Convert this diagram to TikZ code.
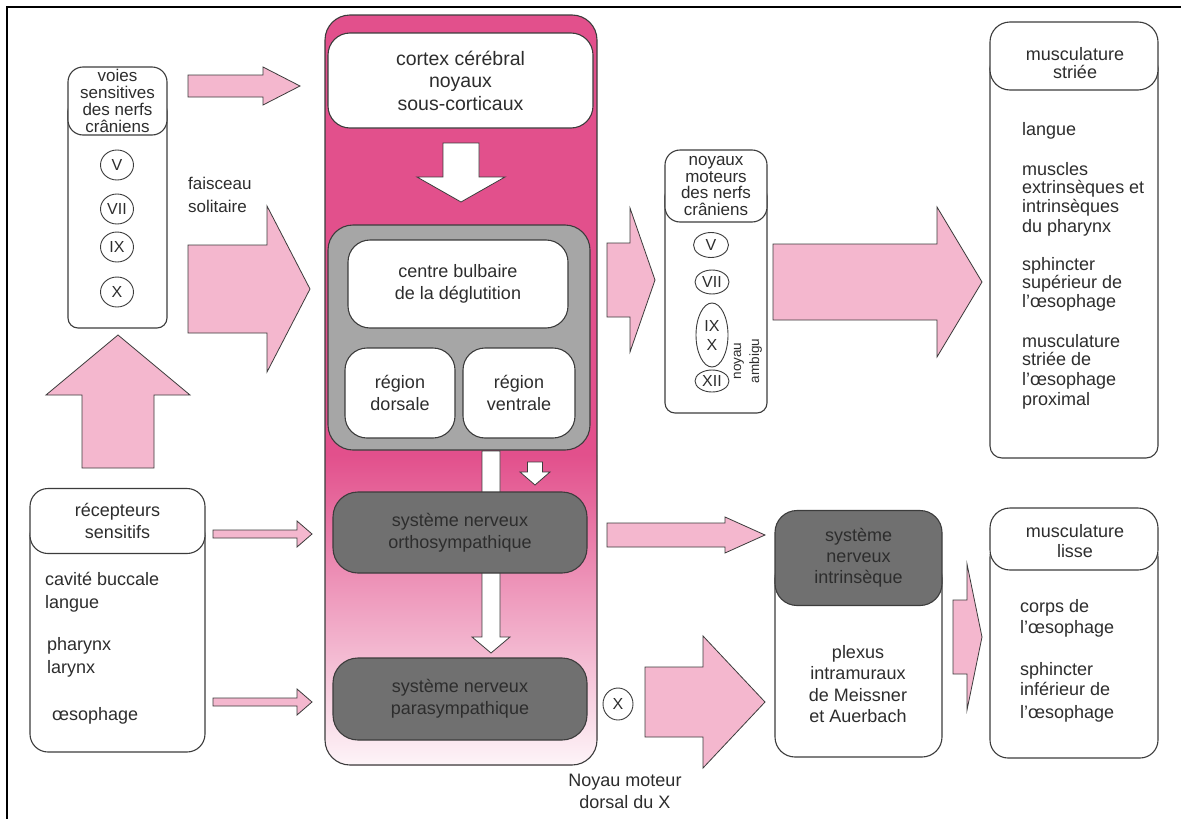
\documentclass[tikz,border=0pt]{standalone}
\usepackage{fontspec}
\setmainfont{Liberation Sans}
\usetikzlibrary{shapes.geometric}
\definecolor{hotpink}{RGB}{226,80,140}
\definecolor{lpink}{RGB}{244,183,206}
\definecolor{mgray}{RGB}{166,166,166}
\definecolor{dgray}{RGB}{112,112,112}
\definecolor{txt}{RGB}{45,45,45}
\definecolor{edge}{RGB}{60,60,60}
% horizontal block arrow: x1, xbase, xtip, yc, shaft half, head half
\newcommand\harr[6]{\draw[parrow] (#1,#4-#5) -- (#2,#4-#5) -- (#2,#4-#6) -- (#3,#4) -- (#2,#4+#6) -- (#2,#4+#5) -- (#1,#4+#5) -- cycle;}
% vertical block arrow: [style] y1, ybase, ytip, xc, shaft half, head half
\newcommand\varr[7][warrow]{\draw[#1] (#5-#6,#2) -- (#5-#6,#3) -- (#5-#7,#3) -- (#5,#4) -- (#5+#7,#3) -- (#5+#6,#3) -- (#5+#6,#2) -- cycle;}
\newcommand\bl[4]{\node[bodytxt, anchor=base west] (#1) at (#2,#3) {#4};}
\begin{document}
\begin{tikzpicture}[x=1pt,y=-1pt,
  every node/.style={inner sep=0pt, text=txt},
  box/.style={draw=edge, line width=1.1pt},
  parrow/.style={draw=edge, fill=lpink, line width=0.8pt, line join=miter},
  warrow/.style={draw=edge, fill=white, line width=0.8pt, line join=miter},
  ttl/.style={align=center, font=\fontsize{18}{22}\selectfont},
  hdr/.style={align=center, font=\fontsize{17}{17}\selectfont},
  bodytxt/.style={font=\fontsize{18}{22}\selectfont},
  rom/.style={draw=edge, line width=0.9pt, ellipse, font=\fontsize{16}{16}\selectfont}]
\useasboundingbox (0,0) rectangle (1181,819);
\fill[white] (0,0) rectangle (1181,819);
% frame
\draw[line width=2.4pt] (7,819) -- (7,7) -- (1181,7);

% ---------- main pink column ----------
\fill[hotpink, rounded corners=25pt] (325,15) rectangle (597,765);
\begin{scope}
  \clip[rounded corners=25pt] (325,15) rectangle (597,765);
  \shade[top color=hotpink, bottom color=hotpink!6] (324,455) rectangle (598,766);
\end{scope}
\node[box, rounded corners=25pt, minimum width=272pt, minimum height=750pt] (col) at (461,390) {};

\node[box, fill=white, rounded corners=22pt, minimum width=265pt, minimum height=95pt, ttl, font=\fontsize{19.5}{22.5}\selectfont] (cortex) at (460.5,80.5) {cortex cérébral\\noyaux\\sous-corticaux};
\varr{143}{177}{202}{461}{18}{44}

\node[box, fill=mgray, rounded corners=25pt, minimum width=262pt, minimum height=225pt] (grey) at (459,337.5) {};
\node[box, fill=white, rounded corners=22pt, minimum width=220pt, minimum height=88pt, ttl] (centre) at (458,284) {centre bulbaire\\de la déglutition};
\node[box, fill=white, rounded corners=22pt, minimum width=110pt, minimum height=90pt, ttl] (dors) at (400,393) {région\\dorsale};
\node[box, fill=white, rounded corners=22pt, minimum width=112pt, minimum height=90pt, ttl] (ventr) at (519,393) {région\\ventrale};

\varr{451}{637}{653}{491}{9}{19}
\varr{462}{472}{485}{535}{7.5}{15}

\node[box, fill=dgray, rounded corners=25pt, minimum width=254pt, minimum height=81pt, ttl] (ortho) at (460,532.5) {système nerveux\\orthosympathique};
\node[box, fill=dgray, rounded corners=25pt, minimum width=254pt, minimum height=82pt, ttl] (para) at (460,699) {système nerveux\\parasympathique};

\node[rom, minimum width=30pt, minimum height=32pt] (xp) at (618,704) {X};
\node[ttl] (dmx) at (625,791) {Noyau moteur\\dorsal du X};

% ---------- voies sensitives ----------
\node[box, rounded corners=10pt, minimum width=99pt, minimum height=227pt] (voies) at (117.5,214.5) {};
\node[box, fill=white, rounded corners=15pt, minimum width=99pt, minimum height=68pt, hdr] (voiesh) at (117.5,101) {voies\\sensitives\\des nerfs\\crâniens};
\node[rom, minimum width=33pt, minimum height=30pt] (s5) at (117,165) {V};
\node[rom, minimum width=33pt, minimum height=30pt] (s7) at (117,209) {VII};
\node[rom, minimum width=33pt, minimum height=30pt] (s9) at (117,247) {IX};
\node[rom, minimum width=33pt, minimum height=30pt] (s10) at (117,292) {X};

\harr{188}{263}{300}{86}{11}{19}
\harr{188}{267}{310}{289}{44}{83}
\node[bodytxt, align=left, anchor=base west, font=\fontsize{17}{23}\selectfont] (fs) at (188,212) {faisceau\\solitaire};

% up arrow
\varr[parrow]{468}{395}{335}{118}{36}{72}

% ---------- récepteurs ----------
\node[box, rounded corners=18pt, minimum width=175pt, minimum height=234pt] (rec) at (117.5,635) {};
\node[box, fill=white, rounded corners=18pt, minimum width=175pt, minimum height=65pt, ttl] (rech) at (117.5,521) {récepteurs\\sensitifs};
\bl{r1}{45}{585}{cavité buccale}
\bl{r2}{45}{608}{langue}
\bl{r3}{47}{650}{pharynx}
\bl{r4}{47}{673}{larynx}
\bl{r5}{52}{720}{œsophage}

\harr{213}{297}{312}{534}{4}{13}
\harr{213}{297}{312}{702}{4}{13}

% ---------- noyaux moteurs ----------
\harr{607}{630}{655}{280}{37}{72}
\node[box, rounded corners=10pt, minimum width=102pt, minimum height=227pt] (nm) at (716,299.5) {};
\node[box, fill=white, rounded corners=15pt, minimum width=102pt, minimum height=72pt, hdr, font=\fontsize{17}{16.7}\selectfont] (nmh) at (716,186) {noyaux\\moteurs\\des nerfs\\crâniens};
\node[rom, minimum width=35pt, minimum height=25pt] (m5) at (711,245) {V};
\node[rom, minimum width=34pt, minimum height=24pt] (m7) at (712,282) {VII};
\node[rom, minimum width=32pt, minimum height=64pt, align=center, font=\fontsize{16}{19}\selectfont] (m9) at (712,335) {IX\\X};
\node[rom, minimum width=34pt, minimum height=22pt] (m12) at (712,381) {XII};
\node[align=center, rotate=90, font=\fontsize{13.5}{18}\selectfont] (amb) at (748,361) {noyau\\ambigu};

\harr{773}{937}{982}{282}{38}{75}

% ---------- musculature striée ----------
\node[box, rounded corners=12pt, minimum width=168pt, minimum height=402pt] (ms) at (1074,257) {};
\node[box, fill=white, rounded corners=20pt, minimum width=168pt, minimum height=68pt] (msh) at (1074,56) {};
\node[ttl, font=\fontsize{18}{18}\selectfont] (msht) at (1075,63) {musculature\\striée};
\bl{a1}{1022}{135}{langue}
\bl{a2}{1022}{175}{muscles}
\bl{a3}{1022}{193}{extrinsèques et}
\bl{a4}{1022}{212}{intrinsèques}
\bl{a5}{1022}{232}{du pharynx}
\bl{a6}{1022}{270}{sphincter}
\bl{a7}{1022}{288}{supérieur de}
\bl{a8}{1022}{307}{l'œsophage}
\bl{a9}{1022}{347}{musculature}
\bl{a10}{1022}{365}{striée de}
\bl{a11}{1022}{385}{l'œsophage}
\bl{a12}{1022}{405}{proximal}

% ---------- système nerveux intrinsèque ----------
\harr{607}{725}{765}{535}{12}{18}
\harr{645}{703}{765}{702}{35}{66}
\node[box, fill=white, rounded corners=20pt, minimum width=167pt, minimum height=199pt] (intr) at (858.5,657.5) {};
\node[box, fill=dgray, rounded corners=22pt, minimum width=167pt, minimum height=95pt, align=center, font=\fontsize{18}{21}\selectfont] (intrh) at (858.5,558) {système\\nerveux\\intrinsèque};
\node[align=center, font=\fontsize{18}{21.5}\selectfont] (plex) at (858,684) {plexus\\intramuraux\\de Meissner\\et Auerbach};

\harr{953}{967}{982}{637}{37}{73}

% ---------- musculature lisse ----------
\node[box, rounded corners=18pt, minimum width=168pt, minimum height=219pt] (ml) at (1074,648.5) {};
\node[box, fill=white, rounded corners=20pt, minimum width=168pt, minimum height=62pt] (mlh) at (1074,539) {};
\node[ttl, font=\fontsize{18}{20}\selectfont] (mlht) at (1075,541) {musculature\\lisse};
\bl{b1}{1020}{612}{corps de}
\bl{b2}{1020}{633}{l'œsophage}
\bl{b3}{1020}{675}{sphincter}
\bl{b4}{1020}{695}{inférieur de}
\bl{b5}{1020}{718}{l'œsophage}
\end{tikzpicture}
\end{document}
